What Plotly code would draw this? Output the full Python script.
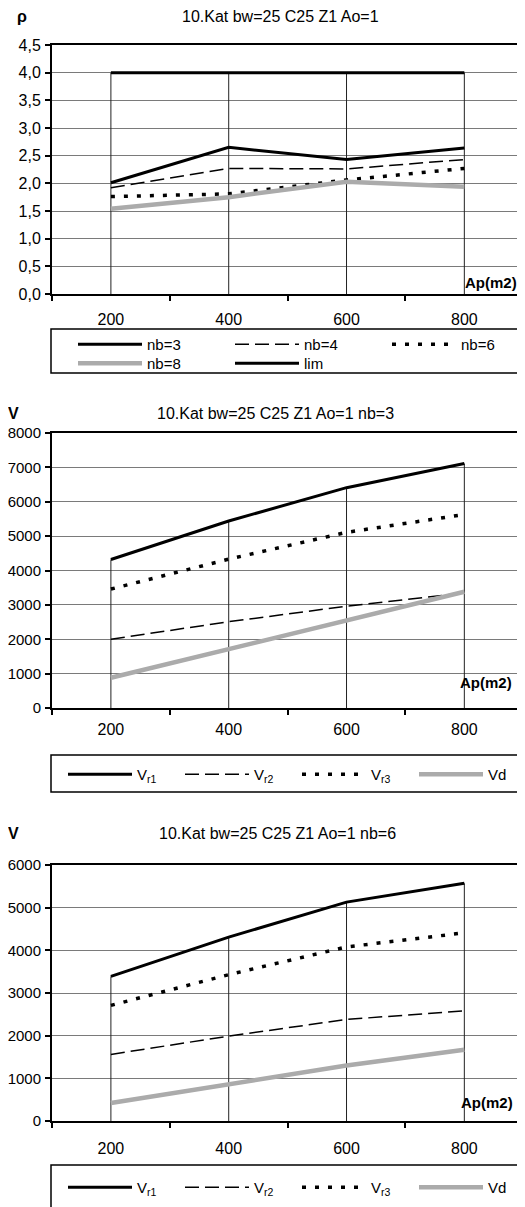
import plotly.graph_objects as go

# page offset: the browser body has an 8px margin, so the figure is drawn
# 8px smaller than the window and all positions are given in window pixels
OFF = 8
W, H = 525 - OFF, 1207 - OFF

# ---------------- data ----------------
ap = [200, 400, 600, 800]

# chart 1: rho
rho_nb3 = [2.01, 2.65, 2.43, 2.64]
rho_nb4 = [1.92, 2.27, 2.26, 2.43]
rho_nb6 = [1.76, 1.81, 2.06, 2.27]
rho_nb8 = [1.54, 1.75, 2.03, 1.94]
rho_lim = [4.0, 4.0, 4.0, 4.0]

# chart 2: V, nb=3
v3_r1 = [4320, 5440, 6410, 7110]
v3_r2 = [2000, 2510, 2960, 3350]
v3_r3 = [3460, 4330, 5110, 5630]
v3_d = [880, 1720, 2570, 3380]

# chart 3: V, nb=6
v6_r1 = [3390, 4310, 5130, 5570]
v6_r2 = [1560, 1990, 2380, 2580]
v6_r3 = [2710, 3430, 4080, 4410]
v6_d = [420, 850, 1300, 1670]

titles = ["10.Kat bw=25 C25 Z1 Ao=1",
          "10.Kat bw=25 C25 Z1 Ao=1 nb=3",
          "10.Kat bw=25 C25 Z1 Ao=1 nb=6"]
ylabels = ["ρ", "V", "V"]
xlabel = "Ap(m2)"
names1 = ["nb=3", "nb=4", "nb=6", "nb=8", "lim"]
names2 = ["V<sub>r1</sub>", "V<sub>r2</sub>", "V<sub>r3</sub>", "Vd"]
names3 = ["V<sub>r1</sub>", "V<sub>r2</sub>", "V<sub>r3</sub>", "Vd"]

# ---------------- geometry helpers (window pixels -> paper) ----------------
def py(y):
    return 1 - (y - OFF) / H

def px(x):
    return (x - OFF) / W

FONT = "Liberation Sans, Arial, sans-serif"

solid = dict(color="black", width=3)
dashed = dict(color="black", width=1.5, dash="14px,6px")
dotted = dict(color="black", width=3.5, dash="4px,9px")
grey = dict(color="#ababab", width=4.5)

fig = go.Figure()

def add_series(xa, ya, legends, series):
    # drop lines from the highest value down to 0 at each category
    tops = [max(vals[i] for vals, _, _ in series) for i in range(len(ap))]
    dx, dy = [], []
    for x, t in zip(ap, tops):
        dx += [x, x, None]
        dy += [t, 0, None]
    fig.add_trace(go.Scatter(x=dx, y=dy, mode="lines", xaxis=xa, yaxis=ya,
                             line=dict(color="#222", width=1), showlegend=False,
                             hoverinfo="skip"))
    for (vals, name, line), lg in zip(series, legends):
        fig.add_trace(go.Scatter(x=ap, y=vals, name=name, mode="lines",
                                 line=line, xaxis=xa, yaxis=ya, legend=lg))

s1 = [(rho_nb3, names1[0], solid), (rho_nb4, names1[1], dashed),
      (rho_nb6, names1[2], dotted), (rho_nb8, names1[3], grey),
      (rho_lim, names1[4], solid)]
s2 = [(v3_r1, names2[0], solid), (v3_r2, names2[1], dashed),
      (v3_r3, names2[2], dotted), (v3_d, names2[3], grey)]
s3 = [(v6_r1, names3[0], solid), (v6_r2, names3[1], dashed),
      (v6_r3, names3[2], dotted), (v6_d, names3[3], grey)]

add_series("x", "y", ["legend", "legend", "legend", "legend4", "legend4"], s1)
add_series("x2", "y2", ["legend2"] * 4, s2)
add_series("x3", "y3", ["legend3"] * 4, s3)

# plot-area pixel positions (top, bottom)
areas = [(45, 294), (433, 708), (865, 1121)]
yranges = [(0, 4.5), (0, 8000), (0, 6000)]
ydticks = [0.5, 1000, 1000]
yfmts = [".1f", "d", "d"]
ytick_sizes = [16, 15, 15]
xlab_len = [10, 6, 12]

layout = dict(
    width=W, height=H,
    margin=dict(l=0, r=0, t=0, b=0, autoexpand=False),
    paper_bgcolor="white", plot_bgcolor="white",
    separators=",.",
    font=dict(family=FONT, size=15, color="black"),
    showlegend=True,
)

for i, ((top, bot), yr, dt, fmt, ys, xl) in enumerate(
        zip(areas, yranges, ydticks, yfmts, ytick_sizes, xlab_len)):
    sfx = "" if i == 0 else str(i + 1)
    layout["xaxis" + sfx] = dict(
        domain=[px(52), 1], range=[100, 903], anchor="y" + sfx,
        tickvals=ap, ticks="outside", ticklen=xl, tickcolor="rgba(0,0,0,0)",
        showgrid=False, zeroline=False,
        showline=True, linecolor="black", linewidth=2, mirror=True,
        tickfont=dict(size=16),
        minor=dict(tickvals=[100, 300, 500, 700, 900], ticks="outside",
                   ticklen=5, tickcolor="black", tickwidth=1.5, showgrid=False),
    )
    layout["yaxis" + sfx] = dict(
        domain=[py(bot), py(top)], range=list(yr), anchor="x" + sfx,
        dtick=dt, tick0=0, tickformat=fmt,
        ticks="outside", ticklen=5, tickcolor="black", tickwidth=1.5,
        showgrid=True, gridcolor="#7a7a7a", gridwidth=1,
        zeroline=False, showline=True, linecolor="black", linewidth=2, mirror=True,
        tickfont=dict(size=ys), ticklabelstandoff=1,
    )

common_leg = dict(orientation="h", xanchor="left", yanchor="top",
                  bgcolor="rgba(0,0,0,0)", borderwidth=0, font=dict(size=15),
                  itemwidth=64, traceorder="normal")
layout["legend"] = dict(common_leg, x=px(73), y=py(328), entrywidth=78)
layout["legend4"] = dict(common_leg, x=px(73), y=py(347), entrywidth=78)
layout["legend2"] = dict(common_leg, x=px(63), y=py(758), entrywidth=38)
layout["legend3"] = dict(common_leg, x=px(63), y=py(1171), entrywidth=38)

fig.update_layout(**layout)

# legend boxes
for (y0, y1) in [(329, 373), (755, 792), (1165, 1215)]:
    fig.add_shape(type="rect", xref="paper", yref="paper",
                  x0=px(51), x1=px(527), y0=py(y1), y1=py(y0),
                  line=dict(color="black", width=1.5), fillcolor="rgba(0,0,0,0)")

# titles, y labels, x labels
title_pos = [(280, 17), (275, 413), (277, 833)]
ylab_pos = [(22, 17), (13, 413), (13, 833)]
xlab_pos = [(463, 282), (458, 682), (459, 1102)]
for t, (tx, ty), yl, (lx, ly), (ax, ay) in zip(titles, title_pos, ylabels, ylab_pos, xlab_pos):
    fig.add_annotation(text=t, x=px(tx), y=py(ty), xref="paper", yref="paper",
                       showarrow=False, font=dict(size=16), xanchor="center", yanchor="middle")
    fig.add_annotation(text="<b>" + yl + "</b>", x=px(lx), y=py(ly), xref="paper", yref="paper",
                       showarrow=False, font=dict(size=16), xanchor="center", yanchor="middle")
    fig.add_annotation(text="<b>" + xlabel + "</b>", x=px(ax), y=py(ay), xref="paper", yref="paper",
                       showarrow=False, font=dict(size=15), xanchor="left", yanchor="middle")

fig.write_html("out.html")
